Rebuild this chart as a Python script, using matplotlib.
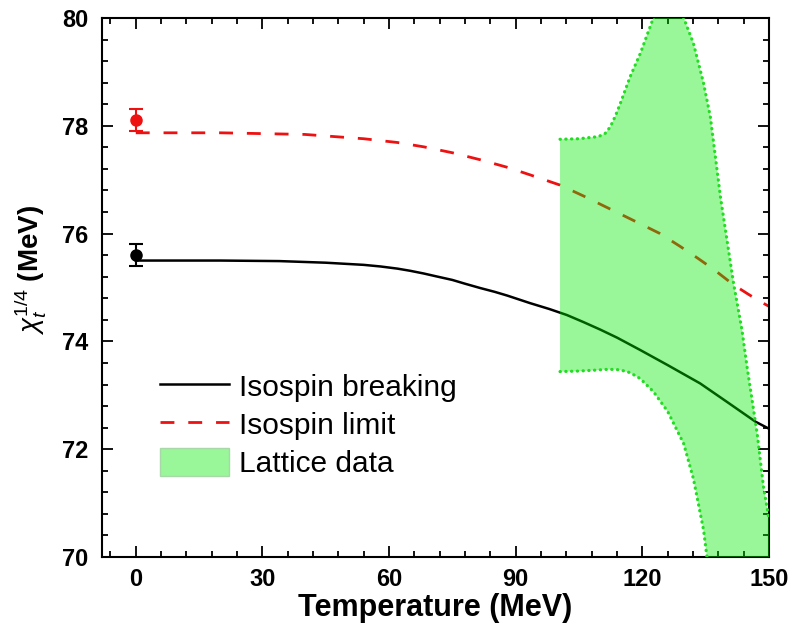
import matplotlib
matplotlib.use("Agg")
import matplotlib.pyplot as plt
from matplotlib.patches import Patch
from matplotlib.ticker import MultipleLocator
import numpy as np

# ---------------- data ----------------
T_break = [0, 20, 34, 45, 54, 58, 62, 65, 68.2, 71, 75, 78, 81.6, 85, 88, 93.4, 98, 102.1,
           106, 110, 114, 119.5, 126, 133.7, 140, 146.8, 150]
chi_break = [75.5, 75.5, 75.49, 75.46, 75.42, 75.39, 75.35, 75.31, 75.26, 75.21, 75.14, 75.07,
             74.99, 74.92, 74.85, 74.71, 74.60, 74.49, 74.36, 74.22, 74.07, 73.84, 73.56,
             73.22, 72.88, 72.51, 72.38]

T_limit = [0, 20, 40, 54, 62, 68.2, 75, 81.6, 88, 93.4, 100.5, 106, 112, 118, 124.2, 129,
           133, 137, 141.6, 145, 147.9, 150]
chi_limit = [77.87, 77.87, 77.84, 77.76, 77.69, 77.61, 77.50, 77.37, 77.23, 77.09, 76.90,
             76.70, 76.47, 76.24, 76.0, 75.76, 75.55, 75.33, 75.05, 74.88, 74.74, 74.65]

pt_T = [0]
pt_break = [75.6]
pt_break_err = [0.2]
pt_limit = [78.11]
pt_limit_err = [0.2]

lat_T = [100.5, 105, 109.6, 111.2, 112.4, 113.6, 114.8, 117.1, 119.5, 122.6, 126, 129.8,
         132.1, 134.5, 136.1, 138.5, 141.6, 143.6, 144.8, 147.2, 148.7, 150]
lat_upper = [77.75, 77.76, 77.80, 77.86, 77.98, 78.18, 78.42, 78.91, 79.34, 80.0, 80.4, 80.0,
             79.53, 78.79, 78.17, 76.68, 75.08, 74.21, 73.53, 72.29, 71.3, 70.7]
lat_lower = [73.44, 73.45, 73.47, 73.48, 73.48, 73.48, 73.47, 73.42, 73.31, 73.07, 72.7,
             72.1, 71.45, 70.5, 69.5, 68.5, 67.5, 67.0, 66.8, 66.5, 66.3, 66.0]

xticks = [0, 30, 60, 90, 120, 150]
yticks = [70, 72, 74, 76, 78, 80]

# ---------------- plot ----------------
plt.rcParams['font.family'] = ['Liberation Sans', 'DejaVu Sans']
plt.rcParams['mathtext.fontset'] = 'custom'
plt.rcParams['mathtext.rm'] = 'Liberation Sans'
plt.rcParams['mathtext.it'] = 'Liberation Sans:italic'

fig = plt.figure(figsize=(7.9, 6.39), dpi=100)
ax = fig.add_axes([102/790, 82/639, 667/790, 539/639])

ax.plot(T_break, chi_break, color='black', lw=1.8, zorder=2)
ax.plot(T_limit, chi_limit, color='#ee1111', lw=2.0, ls=(0, (5, 5)), zorder=2)

ax.errorbar(pt_T, pt_break, yerr=pt_break_err, fmt='o', color='black', ms=8,
            capsize=5, capthick=1.5, elinewidth=1.5, zorder=3)
ax.errorbar(pt_T, pt_limit, yerr=pt_limit_err, fmt='o', color='#ee1111', ms=8,
            capsize=5, capthick=1.5, elinewidth=1.5, zorder=3)

ax.fill_between(lat_T, lat_lower, lat_upper, color=(0.0, 0.92, 0.0), alpha=0.4,
                lw=0, zorder=4)
for edge in (lat_upper, lat_lower):
    ax.plot(lat_T, edge, color='#22dd22', lw=2.3, ls=(0, (0.1, 1.7)),
            dash_capstyle='round', zorder=5)

ax.set_xlim(-8, 150)
ax.set_ylim(70, 80)
ax.set_xticks(xticks)
ax.set_yticks(yticks)
ax.xaxis.set_minor_locator(MultipleLocator(6))
ax.yaxis.set_minor_locator(MultipleLocator(0.4))
ax.tick_params(which='both', direction='in', top=True, right=True, width=1.3)
ax.tick_params(which='major', length=8, labelsize=17)
ax.tick_params(axis='y', which='major', pad=10)
ax.tick_params(axis='x', which='major', pad=8)
ax.tick_params(which='minor', length=4)
for lbl in ax.get_xticklabels() + ax.get_yticklabels():
    lbl.set_fontweight('bold')
for s in ax.spines.values():
    s.set_linewidth(1.5)

ax.set_xlabel('Temperature (MeV)', fontsize=22, fontweight='bold')
ax.xaxis.set_label_coords(0.5, (557 - 608) / 539, transform=ax.transAxes)
ax.xaxis.label.set_va('center')
ax.set_ylabel(r'$\chi_t^{1/4}$ (MeV)', fontsize=20, fontweight='bold')
ax.yaxis.set_label_coords((30 - 102) / 667, (557 - 270) / 539, transform=ax.transAxes)
ax.yaxis.label.set_va('center')

handles = [
    plt.Line2D([], [], color='black', lw=1.8),
    plt.Line2D([], [], color='#ee1111', lw=2.0, ls=(0, (5, 5))),
    Patch(facecolor=(0.6, 0.97, 0.6), edgecolor='#a8d8a8'),
]
ax.legend(handles, ['Isospin breaking', 'Isospin limit', 'Lattice data'],
          loc='center left', bbox_to_anchor=(0.087, 0.245), frameon=False,
          fontsize=21.5, handlelength=2.3, handletextpad=0.34, labelspacing=0.28,
          borderaxespad=0, borderpad=0, handleheight=1.05)

fig.savefig('out.png', dpi=100)
